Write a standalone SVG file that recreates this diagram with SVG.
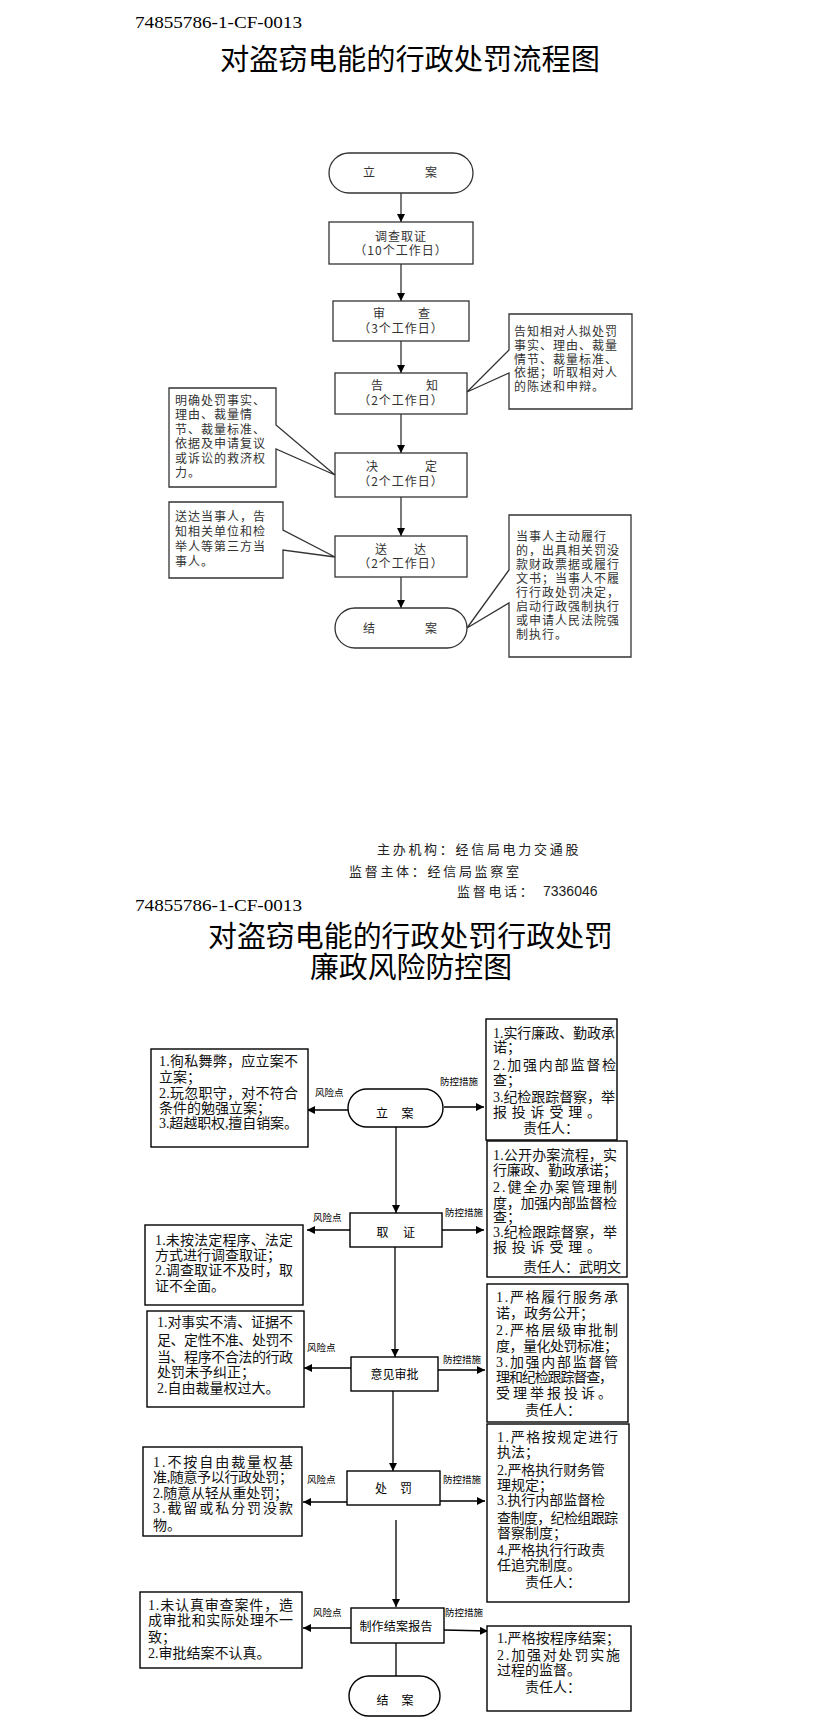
<svg xmlns="http://www.w3.org/2000/svg" width="823" height="1732" viewBox="0 0 823 1732">
<style>
.bg{fill:#fff}
.box{fill:#fff;stroke:#333;stroke-width:1.3}
.bbox{fill:#fff;stroke:#000;stroke-width:1.4}
.ln{fill:none;stroke:#333;stroke-width:1.3}
.bln{fill:none;stroke:#000;stroke-width:1.3}
.id{font-family:"Liberation Serif",serif;font-size:16px;fill:#000}
.title{font-family:"Noto Sans CJK SC",sans-serif;font-size:29px;fill:#000}
.t12{font-family:"Noto Sans CJK SC",sans-serif;font-size:12px;letter-spacing:1px;fill:#333}
.c12{font-family:"Noto Sans CJK SC",sans-serif;font-size:12px;fill:#333;text-anchor:middle}
.ft{font-family:"Noto Sans CJK SC",sans-serif;font-size:13px;letter-spacing:2.7px;fill:#222}
.num{font-family:"Liberation Sans",sans-serif;font-size:14px;fill:#222}
.b14{font-family:"Liberation Serif","Noto Sans CJK SC",serif;font-size:14px;fill:#111}
.lbl{font-family:"Noto Sans CJK SC",sans-serif;font-size:9.5px;fill:#000}
.m12{font-family:"Noto Sans CJK SC",sans-serif;font-size:12px;fill:#000;text-anchor:middle}
</style>
<defs>
<marker id="ah" markerUnits="userSpaceOnUse" markerWidth="9" markerHeight="9" refX="8" refY="4" orient="auto">
<path d="M0,0 L8,4 L0,8 Z" fill="#000"/>
</marker>
</defs>
<rect class="bg" x="0" y="0" width="823" height="1732"/>

<!-- ===== Top section ===== -->
<text class="id" x="135" y="28" textLength="167" lengthAdjust="spacingAndGlyphs">74855786-1-CF-0013</text>
<text class="title" x="220" y="70" textLength="380" lengthAdjust="spacingAndGlyphs">对盗窃电能的行政处罚流程图</text>

<g id="top-connectors">
<line class="ln" x1="401" y1="193" x2="401" y2="222" marker-end="url(#ah)"/>
<line class="ln" x1="401" y1="264" x2="401" y2="301" marker-end="url(#ah)"/>
<line class="ln" x1="401" y1="341" x2="401" y2="373" marker-end="url(#ah)"/>
<line class="ln" x1="401" y1="414" x2="401" y2="453" marker-end="url(#ah)"/>
<line class="ln" x1="401" y1="497" x2="401" y2="536" marker-end="url(#ah)"/>
<line class="ln" x1="401" y1="577" x2="401" y2="608" marker-end="url(#ah)"/>
</g>

<g id="t-lian">
<rect class="box" x="329" y="153" width="144" height="40" rx="20"/>
<text class="c12" x="369" y="176.5">立</text><text class="c12" x="431" y="176.5">案</text>
</g>
<g id="t-diaocha">
<rect class="box" x="329" y="222" width="144" height="42"/>
<text class="c12" x="401" y="240.5" letter-spacing="1">调查取证</text>
<text class="c12" x="401" y="254.5" letter-spacing="1">（10个工作日）</text>
</g>
<g id="t-shencha">
<rect class="box" x="333" y="301" width="136" height="40"/>
<text class="c12" x="379" y="317.5">审</text><text class="c12" x="424" y="317.5">查</text>
<text class="c12" x="401" y="332.5" letter-spacing="1">（3个工作日）</text>
</g>
<g id="t-gaozhi">
<rect class="box" x="335" y="373" width="132" height="41"/>
<text class="c12" x="377" y="389.5">告</text><text class="c12" x="432" y="389.5">知</text>
<text class="c12" x="401" y="404.5" letter-spacing="1">（2个工作日）</text>
</g>
<g id="t-jueding">
<rect class="box" x="335" y="453" width="132" height="44"/>
<text class="c12" x="372" y="471">决</text><text class="c12" x="431" y="471">定</text>
<text class="c12" x="401" y="486" letter-spacing="1">（2个工作日）</text>
</g>
<g id="t-songda">
<rect class="box" x="335" y="536" width="132" height="41"/>
<text class="c12" x="381" y="554">送</text><text class="c12" x="420" y="554">达</text>
<text class="c12" x="401" y="568" letter-spacing="1">（2个工作日）</text>
</g>
<g id="t-jiean">
<rect class="box" x="335" y="608" width="132" height="40" rx="20"/>
<text class="c12" x="369" y="632.5">结</text><text class="c12" x="431" y="632.5">案</text>
</g>

<g id="callout-gaozhi">
<path class="box" d="M509,314 H632 V409 H509 V373 L467,392 L509,350 Z"/>
<text class="t12" x="514" y="336.2">告知相对人拟处罚</text>
<text class="t12" x="514" y="350">事实、理由、裁量</text>
<text class="t12" x="514" y="363.7">情节、裁量标准、</text>
<text class="t12" x="514" y="377.4">依据；听取相对人</text>
<text class="t12" x="514" y="391.1">的陈述和申辩。</text>
</g>
<g id="callout-jueding">
<path class="box" d="M169,388 H276 V425 L335,475 L276,449 V487 H169 Z"/>
<text class="t12" x="175" y="404.5">明确处罚事实、</text>
<text class="t12" x="175" y="419">理由、裁量情</text>
<text class="t12" x="175" y="433.5">节、裁量标准、</text>
<text class="t12" x="175" y="448">依据及申请复议</text>
<text class="t12" x="175" y="462.5">或诉讼的救济权</text>
<text class="t12" x="175" y="477">力。</text>
</g>
<g id="callout-songda">
<path class="box" d="M169,502 H283 V530 L335,557 L283,550 V578 H169 Z"/>
<text class="t12" x="175" y="521.2">送达当事人，告</text>
<text class="t12" x="175" y="536">知相关单位和检</text>
<text class="t12" x="175" y="550.8">举人等第三方当</text>
<text class="t12" x="175" y="565.5">事人。</text>
</g>
<g id="callout-jiean">
<path class="box" d="M509,515 H631 V657 H509 V603 L467,628 L509,570 Z"/>
<text class="t12" x="516" y="540.5">当事人主动履行</text>
<text class="t12" x="516" y="554.5">的，出具相关罚没</text>
<text class="t12" x="516" y="568.5">款财政票据或履行</text>
<text class="t12" x="516" y="582.5">文书；当事人不履</text>
<text class="t12" x="516" y="596.5">行行政处罚决定，</text>
<text class="t12" x="516" y="610.5">启动行政强制执行</text>
<text class="t12" x="516" y="624.5">或申请人民法院强</text>
<text class="t12" x="516" y="638.5">制执行。</text>
</g>

<g id="footer">
<text class="ft" x="377" y="854">主办机构：经信局电力交通股</text>
<text class="ft" x="349" y="876">监督主体：经信局监察室</text>
<text class="ft" x="457" y="896">监督电话：</text>
<text class="num" x="543" y="896">7336046</text>
</g>

<!-- ===== Bottom section ===== -->
<text class="id" x="135" y="911" textLength="167" lengthAdjust="spacingAndGlyphs">74855786-1-CF-0013</text>
<text class="title" x="208" y="947" textLength="405" lengthAdjust="spacingAndGlyphs">对盗窃电能的行政处罚行政处罚</text>
<text class="title" x="310" y="978" textLength="202" lengthAdjust="spacingAndGlyphs">廉政风险防控图</text>

<g id="bottom-connectors">
<line class="bln" x1="396" y1="1127" x2="396" y2="1213" marker-end="url(#ah)"/>
<line class="bln" x1="395" y1="1247" x2="395" y2="1357" marker-end="url(#ah)"/>
<line class="bln" x1="393" y1="1391" x2="393" y2="1471" marker-end="url(#ah)"/>
<line class="bln" x1="396" y1="1520" x2="396" y2="1607" marker-end="url(#ah)"/>
<line class="bln" x1="396" y1="1643" x2="396" y2="1694" marker-end="url(#ah)"/>
<line class="bln" x1="348" y1="1110" x2="307" y2="1110" marker-end="url(#ah)"/>
<line class="bln" x1="444" y1="1107" x2="484" y2="1107" marker-end="url(#ah)"/>
<line class="bln" x1="350" y1="1230" x2="307" y2="1230" marker-end="url(#ah)"/>
<line class="bln" x1="442" y1="1230" x2="484" y2="1230" marker-end="url(#ah)"/>
<line class="bln" x1="351" y1="1368" x2="304" y2="1368" marker-end="url(#ah)"/>
<line class="bln" x1="438" y1="1370" x2="485" y2="1370" marker-end="url(#ah)"/>
<line class="bln" x1="347" y1="1502" x2="303" y2="1502" marker-end="url(#ah)"/>
<line class="bln" x1="440" y1="1501" x2="485" y2="1501" marker-end="url(#ah)"/>
<line class="bln" x1="351" y1="1628" x2="303" y2="1628" marker-end="url(#ah)"/>
<line class="bln" x1="444" y1="1630" x2="488" y2="1631" marker-end="url(#ah)"/>
<text class="lbl" x="315" y="1096">风险点</text>
<text class="lbl" x="440" y="1085">防控措施</text>
<text class="lbl" x="313" y="1221">风险点</text>
<text class="lbl" x="445" y="1216">防控措施</text>
<text class="lbl" x="307" y="1351">风险点</text>
<text class="lbl" x="443" y="1363">防控措施</text>
<text class="lbl" x="307" y="1483">风险点</text>
<text class="lbl" x="443" y="1483">防控措施</text>
<text class="lbl" x="313" y="1616">风险点</text>
<text class="lbl" x="445" y="1616">防控措施</text>
</g>

<g id="b-lian">
<rect class="bbox" x="348" y="1089" width="95" height="38" rx="19"/>
<text class="m12" x="382" y="1118">立</text><text class="m12" x="407.5" y="1118">案</text>
</g>
<g id="b-quzheng">
<rect class="bbox" x="350" y="1213" width="92" height="34"/>
<text class="m12" x="382.5" y="1237">取</text><text class="m12" x="409" y="1237">证</text>
</g>
<g id="b-yijian">
<rect class="bbox" x="351" y="1357" width="87" height="34"/>
<text class="m12" x="394.5" y="1379">意见审批</text>
</g>
<g id="b-chufa">
<rect class="bbox" x="347" y="1471" width="93" height="34"/>
<text class="m12" x="381" y="1493">处</text><text class="m12" x="406" y="1493">罚</text>
</g>
<g id="b-zhizuo">
<rect class="bbox" x="351" y="1608" width="93" height="35"/>
<text class="m12" x="396" y="1630.5" letter-spacing="0.2">制作结案报告</text>
</g>
<g id="b-jiean">
<rect class="bbox" x="349" y="1676" width="91" height="40" rx="20"/>
<text class="m12" x="382.5" y="1704.5">结</text><text class="m12" x="407.5" y="1704.5">案</text>
</g>

<g id="risk-1">
<rect class="bbox" x="151" y="1049" width="157" height="98"/>
<text class="b14" x="159" y="1066" textLength="139" lengthAdjust="spacing">1.徇私舞弊，应立案不</text>
<text class="b14" x="159" y="1082">立案；</text>
<text class="b14" x="159" y="1098" textLength="139" lengthAdjust="spacing">2.玩忽职守，对不符合</text>
<text class="b14" x="159" y="1113">条件的勉强立案；</text>
<text class="b14" x="159" y="1128" textLength="139" lengthAdjust="spacing">3.超越职权,擅自销案。</text>
</g>
<g id="ctrl-1">
<rect class="bbox" x="486" y="1019" width="131" height="121"/>
<text class="b14" x="493" y="1038" textLength="122" lengthAdjust="spacing">1.实行廉政、勤政承</text>
<text class="b14" x="493" y="1052">诺；</text>
<text class="b14" x="493" y="1070" textLength="123" lengthAdjust="spacing">2.加强内部监督检</text>
<text class="b14" x="493" y="1085">查；</text>
<text class="b14" x="493" y="1102" textLength="122" lengthAdjust="spacing">3.纪检跟踪督察，举</text>
<text class="b14" x="493" y="1117" textLength="108" lengthAdjust="spacing">报投诉受理。</text>
<text class="b14" x="523" y="1133">责任人：</text>
</g>
<g id="risk-2">
<rect class="bbox" x="145" y="1225" width="158" height="80"/>
<text class="b14" x="155" y="1245" textLength="138" lengthAdjust="spacing">1.未按法定程序、法定</text>
<text class="b14" x="155" y="1260">方式进行调查取证；</text>
<text class="b14" x="155" y="1275" textLength="138" lengthAdjust="spacing">2.调查取证不及时，取</text>
<text class="b14" x="155" y="1291">证不全面。</text>
</g>
<g id="ctrl-2">
<rect class="bbox" x="487" y="1141" width="140" height="136"/>
<text class="b14" x="493" y="1160" textLength="124" lengthAdjust="spacing">1.公开办案流程，实</text>
<text class="b14" x="493" y="1175" textLength="124" lengthAdjust="spacing">行廉政、勤政承诺；</text>
<text class="b14" x="493" y="1192" textLength="124" lengthAdjust="spacing">2.健全办案管理制</text>
<text class="b14" x="493" y="1208" textLength="124" lengthAdjust="spacing">度，加强内部监督检</text>
<text class="b14" x="493" y="1222">查；</text>
<text class="b14" x="493" y="1237" textLength="124" lengthAdjust="spacing">3.纪检跟踪督察，举</text>
<text class="b14" x="493" y="1252" textLength="108" lengthAdjust="spacing">报投诉受理。</text>
<text class="b14" x="523" y="1272">责任人：武明文</text>
</g>
<g id="risk-3">
<rect class="bbox" x="147" y="1311" width="157" height="96"/>
<text class="b14" x="157" y="1327" textLength="136" lengthAdjust="spacing">1.对事实不清、证据不</text>
<text class="b14" x="157" y="1345" textLength="136" lengthAdjust="spacing">足、定性不准、处罚不</text>
<text class="b14" x="157" y="1362" textLength="136" lengthAdjust="spacing">当、程序不合法的行政</text>
<text class="b14" x="157" y="1377">处罚未予纠正；</text>
<text class="b14" x="157" y="1393">2.自由裁量权过大。</text>
</g>
<g id="ctrl-3">
<rect class="bbox" x="487" y="1284" width="141" height="138"/>
<text class="b14" x="496" y="1302" textLength="122" lengthAdjust="spacing">1.严格履行服务承</text>
<text class="b14" x="496" y="1318">诺，政务公开；</text>
<text class="b14" x="496" y="1335" textLength="122" lengthAdjust="spacing">2.严格层级审批制</text>
<text class="b14" x="496" y="1351" textLength="122" lengthAdjust="spacing">度，量化处罚标准；</text>
<text class="b14" x="496" y="1367" textLength="122" lengthAdjust="spacing">3.加强内部监督管</text>
<text class="b14" x="496" y="1382" textLength="117" lengthAdjust="spacing">理和纪检跟踪督查，</text>
<text class="b14" x="496" y="1398" textLength="116" lengthAdjust="spacing">受理举报投诉。</text>
<text class="b14" x="525" y="1415">责任人：</text>
</g>
<g id="risk-4">
<rect class="bbox" x="143" y="1447" width="159" height="89"/>
<text class="b14" x="153" y="1467" textLength="140" lengthAdjust="spacing">1.不按自由裁量权基</text>
<text class="b14" x="153" y="1482" textLength="140" lengthAdjust="spacing">准,随意予以行政处罚；</text>
<text class="b14" x="153" y="1498" textLength="135" lengthAdjust="spacing">2.随意从轻从重处罚；</text>
<text class="b14" x="153" y="1513" textLength="140" lengthAdjust="spacing">3.截留或私分罚没款</text>
<text class="b14" x="153" y="1530">物。</text>
</g>
<g id="ctrl-4">
<rect class="bbox" x="487" y="1424" width="142" height="178"/>
<text class="b14" x="497" y="1442" textLength="121" lengthAdjust="spacing">1.严格按规定进行</text>
<text class="b14" x="497" y="1457">执法；</text>
<text class="b14" x="497" y="1475" textLength="108" lengthAdjust="spacing">2.严格执行财务管</text>
<text class="b14" x="497" y="1490">理规定；</text>
<text class="b14" x="497" y="1505" textLength="108" lengthAdjust="spacing">3.执行内部监督检</text>
<text class="b14" x="497" y="1523" textLength="121" lengthAdjust="spacing">查制度，纪检组跟踪</text>
<text class="b14" x="497" y="1538">督察制度；</text>
<text class="b14" x="497" y="1555" textLength="108" lengthAdjust="spacing">4.严格执行行政责</text>
<text class="b14" x="497" y="1570">任追究制度。</text>
<text class="b14" x="525" y="1587">责任人：</text>
</g>
<g id="risk-5">
<rect class="bbox" x="140" y="1592" width="162" height="76"/>
<text class="b14" x="148" y="1610" textLength="145" lengthAdjust="spacing">1.未认真审查案件，造</text>
<text class="b14" x="148" y="1625" textLength="145" lengthAdjust="spacing">成审批和实际处理不一</text>
<text class="b14" x="148" y="1642">致；</text>
<text class="b14" x="148" y="1658">2.审批结案不认真。</text>
</g>
<g id="ctrl-5">
<rect class="bbox" x="487" y="1626" width="144" height="85"/>
<text class="b14" x="497" y="1643" textLength="123" lengthAdjust="spacing">1.严格按程序结案；</text>
<text class="b14" x="497" y="1660" textLength="123" lengthAdjust="spacing">2.加强对处罚实施</text>
<text class="b14" x="497" y="1675">过程的监督。</text>
<text class="b14" x="525" y="1692">责任人：</text>
</g>
</svg>
